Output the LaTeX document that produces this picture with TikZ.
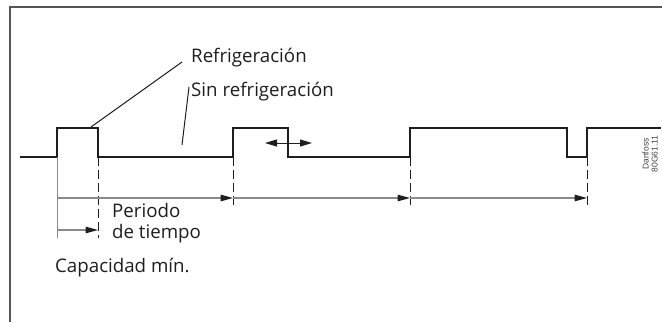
\documentclass[tikz,border=0pt]{standalone}
\usepackage{fontspec}
\setmainfont{Open Sans}
\newfontfamily\codefont{Liberation Sans}
\usetikzlibrary{arrows.meta}
\definecolor{framegray}{HTML}{555555}
\definecolor{arrowgray}{HTML}{8A8A8A}
\definecolor{ink}{HTML}{1E1E1E}
\begin{document}
\begin{tikzpicture}[x=1pt,y=-1pt,
  frameline/.style={draw=framegray,line width=1.4pt},
  signal/.style={draw=ink,line width=1.8pt,line join=miter},
  guide/.style={draw=ink,line width=0.9pt,dash pattern=on 9pt off 4pt},
  tick/.style={draw=arrowgray,line width=1pt},
  span/.style={draw=arrowgray,line width=1.2pt,-{Triangle[length=12.5pt,width=6.5pt,fill=ink,color=ink]}},
  twoway/.style={draw=ink,line width=1pt,{Triangle[length=12pt,width=7pt]}-{Triangle[length=12pt,width=7pt]}},
  leader/.style={draw=ink,line width=1pt},
  lbl/.style={font=\fontsize{18.7}{21}\selectfont,text=ink,inner sep=0pt},
  code/.style={font=\codefont\fontsize{8.5}{9}\selectfont,text=black!75,align=center,inner sep=0pt,rotate=90}
]
\useasboundingbox (0,0) rectangle (662,322);
% frame
\draw[frameline] (10,322) -- (10,7) -- (662,7);
% signal edges
\coordinate (s0) at (20,157);
\coordinate (u1) at (57,157);
\coordinate (d1) at (98,157);
\coordinate (u2) at (233,157);
\coordinate (d2) at (288,157);
\coordinate (u3) at (410,157);
\coordinate (d3) at (567,157);
\coordinate (u4) at (587,157);
\coordinate (s1) at (661,128);
\draw[signal] (s0) -- (u1) -- ++(0,-29) -| (d1) -- (u2) -- ++(0,-29) -| (d2) -- (u3) -- ++(0,-29) -| (d3) -- (u4) -- ++(0,-29) -- (s1);
% guide lines
\coordinate (t0) at (57,238);
\coordinate (g1) at (98,238);
\coordinate (g2) at (233,205);
\coordinate (g3) at (410,205);
\coordinate (g4) at (587,205);
\draw[tick] (u1) -- (t0);
\draw[guide] (d1) -- (g1);
\draw[guide] (u2) -- (g2);
\draw[guide] (u3) -- (g3);
\draw[guide] (u4) -- (g4);
% period arrows
\coordinate (p0) at (57,198);
\coordinate (p1) at (233,198);
\coordinate (p2) at (410,198);
\coordinate (p3) at (587,198);
\draw[span] (p0) -- (p1);
\draw[span] (p1) -- (p2);
\draw[span] (p2) -- (p3);
\coordinate (m0) at (57,230);
\coordinate (m1) at (98,230);
\draw[span] (m0) -- (m1);
% double arrow
\coordinate (w0) at (265,143);
\coordinate (w1) at (312,143);
\draw[twoway] (w0) -- (w1);
% labels
\node[lbl,anchor=base west] (refr) at (191,62) {Refrigeración};
\node[lbl,anchor=base west] (sinr) at (191,96) {Sin refrigeración};
\node[lbl,anchor=base west] (per) at (112,217) {Periodo};
\node[lbl,anchor=base west] (tiem) at (112,238) {de tiempo};
\node[lbl,anchor=base west] (cap) at (55,272) {Capacidad mín.};
\node[code] (dan) at (650,154) {Danfoss\\80G61.11};
% leaders
\coordinate (l1) at (91,127);
\coordinate (l1e) at (182,62);
\coordinate (l2) at (182,145);
\coordinate (l2e) at (189,87);
\draw[leader] (l1) -- (l1e);
\draw[leader] (l2) -- (l2e);
\end{tikzpicture}
\end{document}
